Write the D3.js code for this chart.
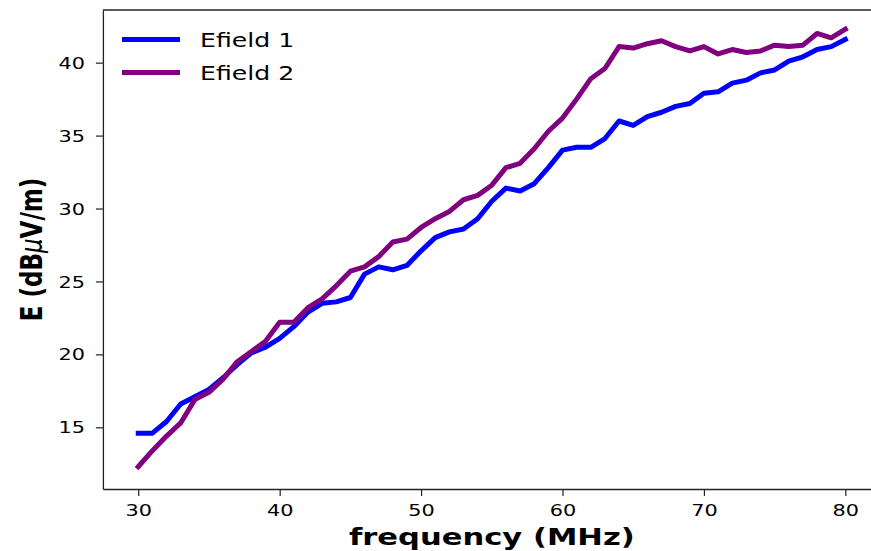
<!DOCTYPE html>
<html>
<head>
<meta charset="utf-8">
<script src="https://cdn.jsdelivr.net/npm/d3@7"></script>
<style>
  html, body { margin: 0; padding: 0; background: #fff; }
  svg { display: block; }
  text { font-family: "DejaVu Sans", sans-serif; fill: #000; }
</style>
</head>
<body>
<svg id="chart" width="871" height="551"></svg>
<script>
// Measured field strength versus frequency
const frequency = d3.range(30, 81);
const efield1 = [
  14.6, 14.6, 15.4, 16.6, 17.1, 17.6, 18.4, 19.3, 20.1, 20.5,
  21.1, 21.9, 22.9, 23.5, 23.6, 23.9, 25.5, 26.0, 25.8, 26.1,
  27.1, 28.0, 28.4, 28.6, 29.3, 30.5, 31.4, 31.2, 31.7, 32.8,
  34.0, 34.2, 34.2, 34.8, 36.0, 35.7, 36.3, 36.6, 37.0, 37.2,
  37.9, 38.0, 38.6, 38.8, 39.3, 39.5, 40.1, 40.4, 40.9, 41.1,
  41.6
];
const efield2 = [
  12.3, 13.4, 14.4, 15.3, 16.9, 17.4, 18.3, 19.5, 20.2, 20.9,
  22.2, 22.2, 23.2, 23.8, 24.7, 25.7, 26.0, 26.7, 27.7, 27.9,
  28.7, 29.3, 29.8, 30.6, 30.9, 31.6, 32.8, 33.1, 34.1, 35.3,
  36.2, 37.5, 38.9, 39.6, 41.1, 41.0, 41.3, 41.5, 41.1, 40.8,
  41.1, 40.6, 40.9, 40.7, 40.8, 41.2, 41.1, 41.2, 42.0, 41.7,
  42.3
];
const seriesNames = ["Efield 1", "Efield 2"];
const seriesColors = ["#0000ff", "#800080"];
const xTicks = [30, 40, 50, 60, 70, 80];
const yTicks = [15, 20, 25, 30, 35, 40];

const svg = d3.select("#chart");
const plot = { left: 102.9, right: 880.7, top: 10, bottom: 489 };
const sx = 1.3; // horizontal text stretch

const x = d3.scaleLinear().domain([27.5, 82.5]).range([plot.left, plot.right]);
const y = d3.scaleLinear().domain([10.77, 43.61]).range([plot.bottom, plot.top]);

// Lines
const series = [efield1, efield2];
const line = d3.line().x((d, i) => x(frequency[i])).y(d => y(d));
series.forEach((vals, k) => {
  svg.append("path")
    .datum(vals)
    .attr("d", line)
    .attr("fill", "none")
    .attr("stroke", seriesColors[k])
    .attr("stroke-width", 5)
    .attr("stroke-linejoin", "round")
    .attr("stroke-linecap", "square");
});

// Axes
const xAxis = svg.append("g")
  .attr("transform", `translate(0,${plot.bottom})`)
  .call(d3.axisBottom(x).tickValues(xTicks).tickSize(7).tickSizeOuter(0).tickPadding(0).tickFormat(d3.format("d")));
const yAxis = svg.append("g")
  .attr("transform", `translate(${plot.left},0)`)
  .call(d3.axisLeft(y).tickValues(yTicks).tickSize(7).tickSizeOuter(0).tickPadding(0).tickFormat(d3.format("d")));

[xAxis, yAxis].forEach(g => {
  g.select(".domain").attr("stroke", "#222").attr("stroke-width", 1.3);
  g.selectAll(".tick line").attr("stroke", "#222").attr("stroke-width", 1.2);
  g.selectAll(".tick text").attr("font-size", 16).attr("fill", "#222");
});

xAxis.selectAll(".tick text")
  .attr("y", 0).attr("dy", null)
  .attr("transform", `translate(0,27) scale(${sx},1)`);
yAxis.selectAll(".tick text")
  .attr("x", 0).attr("dy", "0.35em")
  .attr("transform", `translate(-18,0) scale(${sx},1)`);

// Top spine
svg.append("line")
  .attr("x1", plot.left).attr("x2", plot.right)
  .attr("y1", plot.top).attr("y2", plot.top)
  .attr("stroke", "#222").attr("stroke-width", 1.3);

// Axis labels
svg.append("text")
  .attr("transform", `translate(${(plot.left + plot.right) / 2},545) scale(1.33,1)`)
  .attr("text-anchor", "middle")
  .attr("font-size", 23)
  .attr("font-weight", "bold")
  .text("frequency (MHz)");

const yLabel = svg.append("text")
  .attr("transform", `translate(42,${(plot.top + plot.bottom) / 2}) scale(${sx},1) rotate(-90)`)
  .attr("text-anchor", "middle")
  .attr("font-size", 23)
  .attr("font-weight", "bold");
yLabel.append("tspan").text("E (dB");
yLabel.append("tspan").attr("font-style", "italic").attr("font-weight", "normal").text("μ");
yLabel.append("tspan").text("V/m)");

// Legend
const legend = svg.append("g");
const legendY = [39.5, 72.5];
seriesNames.forEach((name, k) => {
  legend.append("line")
    .attr("x1", 122).attr("x2", 180)
    .attr("y1", legendY[k]).attr("y2", legendY[k])
    .attr("stroke", seriesColors[k])
    .attr("stroke-width", 5);
  legend.append("text")
    .attr("transform", `translate(200,${legendY[k] + 7}) scale(1.29,1)`)
    .attr("font-size", 19.5)
    .attr("fill", "#222")
    .text(name);
});
</script>
</body>
</html>
